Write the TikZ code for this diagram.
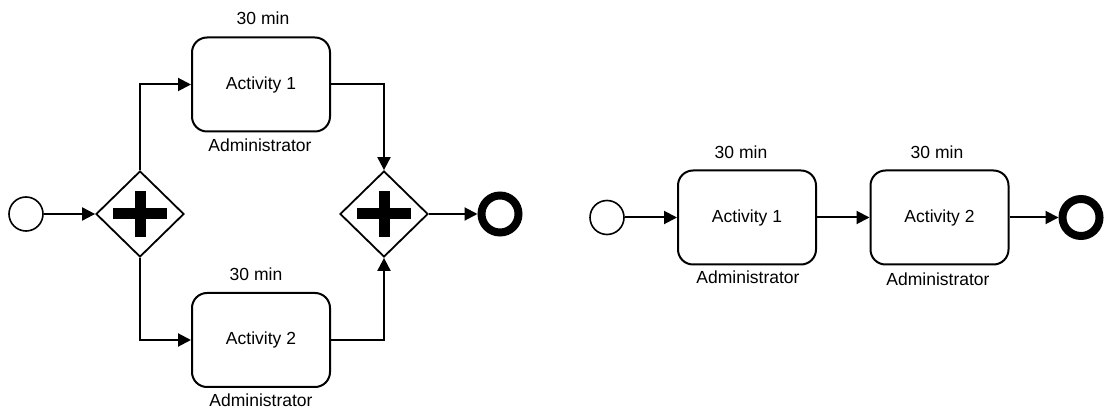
\documentclass[tikz,border=0pt]{standalone}
\usepackage{fontspec}
\setmainfont{Liberation Sans}
\usetikzlibrary{shapes.geometric,arrows.meta}
\begin{document}
\begin{tikzpicture}[x=1pt,y=-1pt,
  every node/.style={font=\fontsize{17.5}{20}\selectfont},
  flow/.style={line width=2pt,-{Triangle[length=13pt,width=13pt]}},
  startev/.style={circle,draw,line width=1.6pt,minimum size=34pt,inner sep=0pt},
  endev/.style={circle,draw,line width=8pt,minimum size=37pt,inner sep=0pt},
  gate/.style={diamond,draw,line width=1.8pt,minimum width=88pt,minimum height=86pt,inner sep=0pt,aspect=1},
  task/.style={rectangle,rounded corners=15pt,draw,line width=2pt,minimum width=138pt,minimum height=94pt,inner sep=0pt},
  plusbar/.style={line width=11pt}
]
\useasboundingbox (0,0) rectangle (1104,411);
% ---------- left diagram ----------
\node[startev] (s1) at (26,214) {};
\node[gate] (g1) at (140,214) {};
\node[task] (a1) at (261,84.5) {Activity 1};
\node[task] (a2) at (261,340) {Activity 2};
\node[gate] (g2) at (384,214) {};
\node[endev] (e1) at (500,214) {};
\node (a1t) at (263,18) {30 min};
\node (a1b) at (260,145) {Administrator};
\node (a2t) at (256,274) {30 min};
\node (a2b) at (261,400) {Administrator};
\draw[plusbar] ([xshift=-27pt]g1.center) -- ([xshift=27pt]g1.center);
\draw[plusbar] ([yshift=-23pt]g1.center) -- ([yshift=23pt]g1.center);
\draw[plusbar] ([xshift=-27pt]g2.center) -- ([xshift=27pt]g2.center);
\draw[plusbar] ([yshift=-23pt]g2.center) -- ([yshift=23pt]g2.center);
\draw[flow] (s1) -- (g1.west);
\draw[flow] (g1.north) |- (a1.west);
\draw[flow] (g1.south) |- (a2.west);
\draw[flow] (a1.east) -| (g2.north);
\draw[flow] (a2.east) -| (g2.south);
\draw[flow] (g2.east) -- (e1);
% ---------- right diagram ----------
\node[startev] (s2) at (607,217.5) {};
\node[task] (b1) at (747,217.5) {Activity 1};
\node[task] (b2) at (939.5,217.5) {Activity 2};
\node[endev] (e2) at (1081,217.5) {};
\node (b1t) at (741,152) {30 min};
\node (b1b) at (748,277) {Administrator};
\node (b2t) at (937,152) {30 min};
\node (b2b) at (938,279) {Administrator};
\draw[flow] (s2) -- (b1);
\draw[flow] (b1) -- (b2);
\draw[flow] (b2) -- (e2);
\end{tikzpicture}
\end{document}
